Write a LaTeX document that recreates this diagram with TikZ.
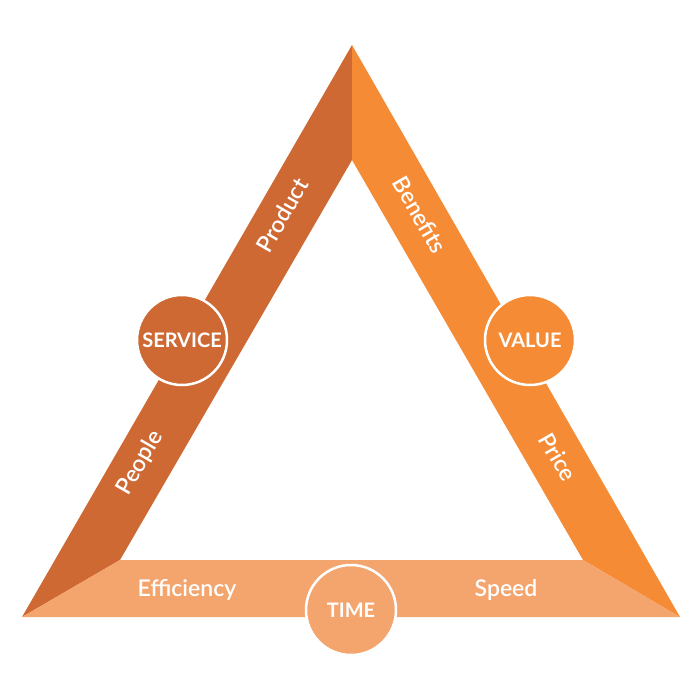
\documentclass[tikz,border=0pt]{standalone}
\usepackage{fontspec}
\setmainfont{Lato}
\newfontfamily\semifont{Lato Semibold}
\definecolor{cdark}{HTML}{CF6934}
\definecolor{cmid}{HTML}{F58B35}
\definecolor{clight}{HTML}{F3A56D}
\begin{document}
\begin{tikzpicture}[x=1pt,y=-1pt,
  hub/.style={circle,draw=white,line width=2.5pt,minimum size=90pt,inner sep=0pt,
    text=white,font=\bfseries\fontsize{20}{20}\selectfont},
  lab/.style={text=white,font=\semifont\fontsize{23}{23}\selectfont,inner sep=0pt}]
\useasboundingbox (0,0) rectangle (700,700);
\coordinate (T) at (352,45);
\coordinate (L) at (22,617);
\coordinate (R) at (680,617);
\coordinate (iT) at (352,160);
\coordinate (iL) at (120,560);
\coordinate (iR) at (583,560);
\fill[cdark] (L) -- (T) -- (iT) -- (iL) -- cycle;
\fill[cmid] (T) -- (R) -- (iR) -- (iT) -- cycle;
\fill[clight] (L) -- (iL) -- (iR) -- (R) -- cycle;
\node[hub,fill=cdark] (service) at (182,340) {SERVICE};
\node[hub,fill=cmid] (value) at (530,340) {VALUE};
\node[hub,fill=clight] (time) at (351,610) {TIME};
\node[lab,rotate=60] (product) at (282,215) {Product};
\node[lab,rotate=60] (people) at (140,463) {People};
\node[lab,rotate=-60] (benefits) at (420,215) {Benefits};
\node[lab,rotate=-60] (price) at (558,457) {Price};
\node[lab] (eff) at (187,590) {Efficiency};
\node[lab] (speed) at (506,590) {Speed};
\end{tikzpicture}
\end{document}
